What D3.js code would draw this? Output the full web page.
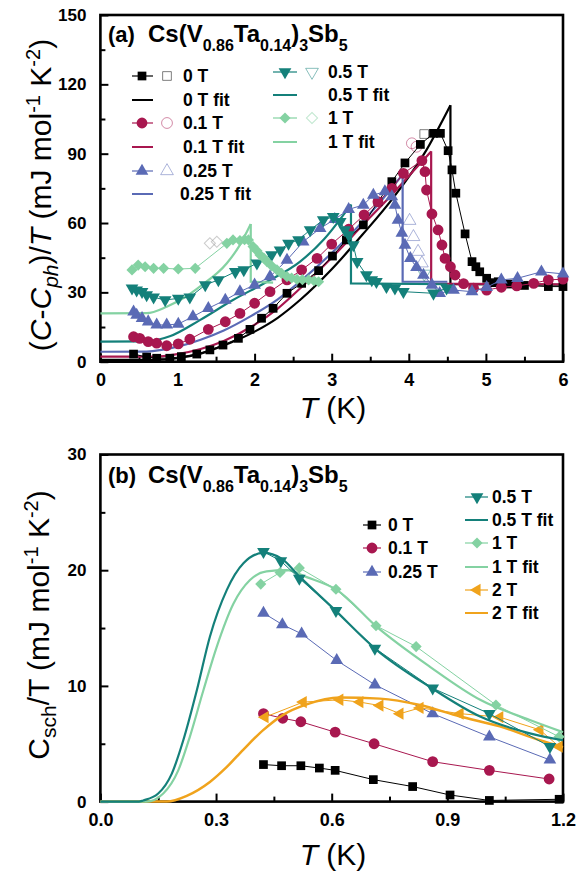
<!DOCTYPE html>
<html>
<head>
<meta charset="utf-8">
<script src="https://cdn.jsdelivr.net/npm/d3@7"></script>
<style>
  body { margin: 0; background: #fff; }
  svg { display: block; font-family: Arial, "Liberation Sans", sans-serif; }
</style>
</head>
<body>
<script>
'use strict';

// ---------- panel (a): (C-Cph)/T vs T ----------
const a0T_T = [0.43,0.6,0.73,0.9,1.05,1.25,1.42,1.59,1.79,1.94,2.09,2.24,2.42,2.61,2.83,3.01,3.19,3.41,3.6,3.78,3.95,4.15,4.32,4.41,4.51,4.56,4.61,4.73,4.82,4.87,4.92,5.01,5.1,5.16,5.31,5.5,5.81,6.0];
const a0T_V = [3.3,2.0,1.5,1.5,2.2,3.3,5.1,7.2,10.1,14,18.8,23.1,29.6,33.9,39.4,45.7,52.7,59.2,69.2,77.9,86,94,98.8,98.8,91.3,83,72.9,55.3,43.3,41.1,38.9,36.1,34.2,34.6,33.6,33,32.5,32.5];
const a0T_openT = [4.2];
const a0T_openV = [98.5];

const a01_T = [0.43,0.51,0.62,0.73,0.86,1.01,1.16,1.4,1.62,1.81,2.0,2.2,2.42,2.61,2.81,3.0,3.22,3.42,3.6,3.78,3.93,4.17,4.21,4.23,4.3,4.38,4.43,4.47,4.54,4.6,4.71,4.84,5.01,5.2,5.4,5.62,5.81,6.0];
const a01_V = [10.8,10.1,8.7,8.0,6.9,7.7,9.7,14,17.3,20.9,25.3,30.3,35.4,39.7,44.7,50.9,57.3,63.5,69.2,75,81.5,87,82.2,74.3,63.9,57,50.5,44.7,41.1,37.5,33.8,31.8,31,32.2,32.8,33.9,35.4,35.7];
const a01_openT = [4.04,4.1];
const a01_openV = [94.5,93];

const a025_T = [0.43,0.47,0.54,0.62,0.73,0.86,1.01,1.2,1.4,1.62,1.81,2.0,2.2,2.42,2.63,2.85,3.04,3.22,3.41,3.54,3.69,3.78,3.82,3.86,3.91,3.95,4.02,4.1,4.19,4.3,4.4,4.58,4.82,5.01,5.2,5.41,5.72,6.0];
const a025_V = [21.6,20.2,18.8,17.3,15.9,15.9,16.3,19.5,23.1,26.7,30.3,33.2,36.8,44,51.9,57.7,61.6,65.9,67.8,72.1,73.6,71.4,67.8,61.3,55.6,50.5,44.7,40.8,37.5,33.2,29.6,31,30.3,32.2,35.4,36.1,38.9,38];
const a025_openT = [4.01,4.06,4.12,4.17];
const a025_openV = [61,54,47.6,42.6];

const a05_T = [0.41,0.47,0.54,0.6,0.69,0.84,1.01,1.16,1.36,1.53,1.75,1.86,2.03,2.22,2.33,2.44,2.57,2.72,2.89,3.02,3.11,3.17,3.22,3.28,3.33,3.45,3.52,3.58,3.71,3.82,3.93,4.32,4.49];
const a05_V = [31.8,31,30.3,28.9,27.9,26.7,27.4,27.9,33.2,35.4,38.9,39.7,42.6,46.2,48.3,51.2,52.7,57,61.3,62.7,60.6,57,54.8,50.5,43.3,37.5,35.4,34.6,32.5,31.8,30.3,29.6,31.8];
const a05_openT = [4.2];
const a05_openV = [38];

const a1_T = [0.41,0.49,0.58,0.69,0.82,1.01,1.23,1.64,1.72,1.81,1.87,1.92,1.98,2.03,2.07,2.12,2.16,2.22,2.29,2.35,2.42,2.48,2.55,2.62,2.7,2.77,2.83];
const a1_V = [39.7,41.8,41.1,40.4,40.4,40.1,40.4,51.2,52.7,52.4,52.8,52.7,49.8,48,46.2,44.8,43.3,41.5,39.7,38.2,36.8,36.2,35.6,35.5,35.4,35,34.6];
const a1_openT = [1.42,1.51];
const a1_openV = [51.2,51.9];

// fits: smooth rise up to the jump, then the straight drop + normal state
const fit0_T = [0,0.7,1.0,1.3,1.6,2.0,2.3,2.6,3.0,3.4,3.8,4.2,4.54];
const fit0_V = [0.8,0.8,1.5,3.5,7,13,19,27,40,55,71,90,111];
const fit0_tailT = [4.54,4.54,6.0];
const fit0_tailV = [111,33.5,33.3];

const fit01_T = [0,0.7,1.0,1.3,1.6,2.0,2.3,2.6,3.0,3.4,3.8,4.1,4.29];
const fit01_V = [2.2,2.2,3.3,5.5,9,16,23,32,45,59,73,84,91];
const fit01_tailT = [4.29,4.29,6.0];
const fit01_tailV = [91,33.8,33.5];

const fit025_T = [0,0.6,1.0,1.3,1.6,1.94,2.3,2.6,3.0,3.3,3.6,3.92];
const fit025_V = [4.3,4.4,6.5,9.5,13.5,19.5,27,35,47,57,68,81];
const fit025_tailT = [3.92,3.92,4.5];
const fit025_tailV = [81,34.6,34.6];

const fit05_T = [0,0.6,0.9,1.29,1.72,2.16,2.59,2.9,3.25];
const fit05_V = [8.7,8.8,11,18,26.7,34.6,43.3,53,68];
const fit05_tailT = [3.25,3.25,4.5];
const fit05_tailV = [68,33.9,33.5];

const fit1_T = [0,0.6,0.86,1.1,1.29,1.64,1.8,1.95];
const fit1_V = [20.9,21,23.8,28,32.5,42.6,50,59.6];
const fit1_tailT = [1.95,1.95,2.24];
const fit1_tailV = [59.6,34.6,34.2];

// ---------- panel (b): Csch/T vs T ----------
const b0_T = [0.423,0.47,0.52,0.568,0.609,0.708,0.81,0.907,1.009,1.19];
const b0_V = [3.2,3.1,3.1,2.9,2.7,1.9,1.3,0.57,0.1,0.2];

const b01_T = [0.423,0.473,0.52,0.609,0.71,0.862,1.009,1.164];
const b01_V = [7.6,7.2,6.9,6.0,5.0,3.45,2.7,1.95];

const b025_T = [0.423,0.472,0.522,0.613,0.712,0.862,1.009,1.166];
const b025_V = [16.3,15.3,14.5,12.2,10.1,7.6,5.6,3.6];

const b05_T = [0.423,0.468,0.516,0.611,0.712,0.862,1.009,1.166];
const b05_V = [21.6,20.8,19.3,16.5,13.25,9.8,7.6,4.75];

const b1_T = [0.416,0.466,0.516,0.611,0.715,0.819,1.026,1.19];
const b1_V = [18.8,19.8,20.2,18.35,15.2,13.4,8.35,5.6];

const b2_T = [0.427,0.526,0.621,0.673,0.725,0.777,0.829,0.933,1.036,1.14,1.19];
const b2_V = [7.3,8.6,8.8,8.6,8.3,7.6,8.1,7.6,7.3,6.2,4.75];

const fb05_T = [0,0.1,0.111,0.15,0.185,0.215,0.25,0.284,0.328,0.371,0.423,0.47,0.518,0.604,0.717,0.855,0.985,1.114,1.2];
const fb05_V = [0,0,0.1,0.7,2.4,5.3,9.6,14.25,18.3,20.6,21.5,21.0,19.4,16.7,13.1,9.9,7.35,5.9,5.3];

const fb1_T = [0,0.12,0.163,0.202,0.232,0.267,0.302,0.345,0.388,0.431,0.483,0.535,0.613,0.717,0.855,0.985,1.114,1.2];
const fb1_V = [0,0,0.7,2.7,5.6,9.6,13.4,17.1,19.15,19.9,20.0,19.4,18.3,15.1,11.65,8.8,7.05,6.0];

const fb2_T = [0,0.172,0.224,0.284,0.328,0.371,0.423,0.474,0.535,0.621,0.725,0.829,0.933,1.036,1.14,1.2];
const fb2_V = [0,0,0.5,1.7,3.0,4.5,6.2,7.5,8.4,9.0,8.9,8.35,7.35,6.5,5.3,4.7];

// tick values
const aTicksX = [0,1,2,3,4,5,6];
const aTicksY = [0,30,60,90,120,150];
const bTicksX = [0,0.3,0.6,0.9,1.2];
const bTicksY = [0,10,20,30];

// colours
const cBlack = '#000000';
const cRed = '#a8174f';
const cBlue = '#5a6ab5';
const cTeal = '#14807a';
const cGreen = '#84d2a2';
const cOrange = '#f0a31c';

const svg = d3.select('body').append('svg')
  .attr('width', 579)
  .attr('height', 880);

// scales
const xA = d3.scaleLinear().domain([0, 6]).range([100.4, 563]);
const yA = d3.scaleLinear().domain([0, 150]).range([361.7, 15]);
const xB = d3.scaleLinear().domain([0, 1.2]).range([100.4, 563]);
const yB = d3.scaleLinear().domain([0, 30]).range([801.6, 454.5]);

function zip(ts, vs) {
  return ts.map((t, i) => [t, vs[i]]);
}

// marker shapes (diamond = square turned 45 degrees)
function markerPath(kind, size) {
  let type = {
    square: d3.symbolSquare, circle: d3.symbolCircle, up: d3.symbolTriangle,
    down: d3.symbolTriangle, left: d3.symbolTriangle, diamond: d3.symbolSquare
  }[kind];
  return d3.symbol().type(type).size(size)();
}
function markerRot(kind) {
  if (kind == 'down') return ' rotate(180)';
  if (kind == 'left') return ' rotate(-90)';
  if (kind == 'diamond') return ' rotate(45)';
  return '';
}
const markerSize = { square: 76, circle: 92, up: 70, down: 70, left: 66, diamond: 62 };

function addMarker(g, kind, x, y, color, open) {
  g.append('path')
    .attr('d', markerPath(kind, markerSize[kind]))
    .attr('transform', 'translate(' + x + ',' + y + ')' + markerRot(kind))
    .attr('fill', open ? 'none' : color)
    .attr('stroke', open ? color : 'none')
    .attr('stroke-opacity', open ? 0.5 : 1)
    .attr('stroke-width', 1);
}

// data series: thin joining line plus markers
function drawData(g, x, y, ts, vs, kind, color) {
  let pts = zip(ts, vs);
  g.append('path')
    .datum(pts)
    .attr('fill', 'none')
    .attr('stroke', color)
    .attr('stroke-width', 1)
    .attr('d', d3.line().x((d) => x(d[0])).y((d) => y(d[1])));
  pts.forEach((d) => addMarker(g, kind, x(d[0]), y(d[1]), color, false));
}

function drawOpen(g, x, y, ts, vs, kind, color) {
  zip(ts, vs).forEach((d) => addMarker(g, kind, x(d[0]), y(d[1]), color, true));
}

function drawFit(g, x, y, ts, vs, color, width, tailT, tailV) {
  g.append('path')
    .datum(zip(ts, vs))
    .attr('fill', 'none')
    .attr('stroke', color)
    .attr('stroke-width', width)
    .attr('d', d3.line().curve(d3.curveMonotoneX).x((d) => x(d[0])).y((d) => y(d[1])));
  if (tailT) {
    g.append('path')
      .datum(zip(tailT, tailV))
      .attr('fill', 'none')
      .attr('stroke', color)
      .attr('stroke-width', width)
      .attr('d', d3.line().x((d) => x(d[0])).y((d) => y(d[1])));
  }
}

// inward ticks, labels, frame
function drawAxes(x, y, ticksX, ticksY, minorX, minorY, fmtX) {
  let y0 = y.range()[0], x0 = x.range()[0];
  let axB = svg.append('g')
    .attr('transform', 'translate(0,' + y0 + ')')
    .call(d3.axisBottom(x).tickValues(ticksX).tickSize(-8).tickPadding(12).tickFormat(fmtX));
  let axBm = svg.append('g')
    .attr('transform', 'translate(0,' + y0 + ')')
    .call(d3.axisBottom(x).tickValues(minorX).tickSize(-5).tickFormat(''));
  let axL = svg.append('g')
    .attr('transform', 'translate(' + x0 + ',0)')
    .call(d3.axisLeft(y).tickValues(ticksY).tickSize(-8).tickPadding(14).tickFormat(d3.format('d')));
  let axLm = svg.append('g')
    .attr('transform', 'translate(' + x0 + ',0)')
    .call(d3.axisLeft(y).tickValues(minorY).tickSize(-5).tickFormat(''));
  [axB, axBm, axL, axLm].forEach((a) => {
    a.select('.domain').remove();
    a.selectAll('line').attr('stroke', '#000').attr('stroke-width', 2);
    a.selectAll('text')
      .attr('fill', '#000')
      .style('font-size', '17px')
      .style('font-weight', 'bold')
      .style('font-family', 'Arial, "Liberation Sans", sans-serif');
  });
  axB.selectAll('text').style('font-size', '18px');
  svg.append('rect')
    .attr('x', x.range()[0])
    .attr('y', y.range()[1])
    .attr('width', x.range()[1] - x.range()[0])
    .attr('height', y.range()[0] - y.range()[1])
    .attr('fill', 'none')
    .attr('stroke', '#000')
    .attr('stroke-width', 2.6);
}

// chemical formula title with subscripts
function formulaTitle(label, x, y) {
  let t = svg.append('text')
    .attr('x', x).attr('y', y)
    .style('font-weight', 'bold');
  let parts = [
    [label, 0, 22], ['Cs(V', 0, 24], ['0.86', 9, 16], ['Ta', -9, 24], ['0.14', 9, 16],
    [')', -9, 24], ['3', 9, 16], ['Sb', -9, 24], ['5', 9, 16]
  ];
  parts.forEach((p, i) => {
    let s = t.append('tspan').attr('dy', p[1]).style('font-size', p[2] + 'px').text(p[0]);
    if (i == 1) s.attr('x', x + 40);
  });
}

function legendRow(kind, color, mx, lx1, lx2, openKind, ox, tx, cy, text, fitOnly) {
  let g = svg.append('g');
  g.append('line')
    .attr('x1', lx1).attr('x2', lx2).attr('y1', cy).attr('y2', cy)
    .attr('stroke', color)
    .attr('stroke-width', fitOnly ? 2 : 1.2);
  if (!fitOnly) addMarker(g, kind, mx, cy, color, false);
  if (openKind) addMarker(g, openKind, ox, cy, color, true);
  g.append('text')
    .attr('x', tx).attr('y', cy + 6)
    .style('font-size', '17.5px')
    .style('font-weight', 'bold')
    .text(text);
}

// ================= panel (a) =================
drawAxes(xA, yA, aTicksX, aTicksY, [0.5,1.5,2.5,3.5,4.5,5.5], [15,45,75,105,135], d3.format('d'));

let gA = svg.append('g');
drawFit(gA, xA, yA, fit0_T, fit0_V, cBlack, 2.2, fit0_tailT, fit0_tailV);
drawFit(gA, xA, yA, fit01_T, fit01_V, cRed, 2.2, fit01_tailT, fit01_tailV);
drawFit(gA, xA, yA, fit025_T, fit025_V, cBlue, 2.2, fit025_tailT, fit025_tailV);
drawFit(gA, xA, yA, fit05_T, fit05_V, cTeal, 2.2, fit05_tailT, fit05_tailV);
drawFit(gA, xA, yA, fit1_T, fit1_V, cGreen, 2.2, fit1_tailT, fit1_tailV);

drawOpen(gA, xA, yA, a0T_openT, a0T_openV, 'square', cBlack);
drawOpen(gA, xA, yA, a01_openT, a01_openV, 'circle', cRed);
drawOpen(gA, xA, yA, a025_openT, a025_openV, 'up', cBlue);
drawOpen(gA, xA, yA, a05_openT, a05_openV, 'down', cTeal);
drawOpen(gA, xA, yA, a1_openT, a1_openV, 'diamond', '#999');

drawData(gA, xA, yA, a0T_T, a0T_V, 'square', cBlack);
drawData(gA, xA, yA, a01_T, a01_V, 'circle', cRed);
drawData(gA, xA, yA, a025_T, a025_V, 'up', cBlue);
drawData(gA, xA, yA, a05_T, a05_V, 'down', cTeal);
drawData(gA, xA, yA, a1_T, a1_V, 'diamond', cGreen);

formulaTitle('(a)', 108, 42);

// legend (a), left column
legendRow('square', cBlack, 142, 132, 153, 'square', 167, 183, 76, '0 T', false);
legendRow(null, cBlack, 0, 132, 153, null, 0, 183, 100, '0 T fit', true);
legendRow('circle', cRed, 142, 132, 153, 'circle', 167, 183, 123, '0.1 T', false);
legendRow(null, cRed, 0, 132, 153, null, 0, 183, 147, '0.1 T fit', true);
legendRow('up', cBlue, 142, 132, 153, 'up', 167, 183, 171, '0.25 T', false);
legendRow(null, cBlue, 0, 132, 153, null, 0, 180, 194, '0.25 T fit', true);
// legend (a), right column
legendRow('down', cTeal, 285, 273, 297, 'down', 312, 328, 72, '0.5 T', false);
legendRow(null, cTeal, 0, 273, 297, null, 0, 328, 95, '0.5 T fit', true);
legendRow('diamond', cGreen, 285, 273, 297, 'diamond', 312, 328, 118, '1 T', false);
legendRow(null, cGreen, 0, 273, 297, null, 0, 328, 142, '1 T fit', true);

// axis titles (a)
let ylabA = svg.append('text')
  .attr('transform', 'translate(51,195)rotate(-90)')
  .attr('text-anchor', 'middle')
  .style('font-size', '30px');
ylabA.append('tspan').text('(');
ylabA.append('tspan').style('font-style', 'italic').text('C');
ylabA.append('tspan').text('-');
ylabA.append('tspan').style('font-style', 'italic').text('C');
ylabA.append('tspan').attr('dy', 7).style('font-size', '21px').style('font-style', 'italic').text('ph');
ylabA.append('tspan').attr('dy', -7).text(')/');
ylabA.append('tspan').style('font-style', 'italic').text('T');
ylabA.append('tspan').text(' (mJ mol');
ylabA.append('tspan').attr('dy', -11).style('font-size', '20px').text('-1');
ylabA.append('tspan').attr('dy', 11).text(' K');
ylabA.append('tspan').attr('dy', -11).style('font-size', '20px').text('-2');
ylabA.append('tspan').attr('dy', 11).text(')');

let xlabA = svg.append('text')
  .attr('x', 333).attr('y', 418)
  .attr('text-anchor', 'middle')
  .style('font-size', '30px');
xlabA.append('tspan').style('font-style', 'italic').text('T');
xlabA.append('tspan').text(' (K)');

// ================= panel (b) =================
drawAxes(xB, yB, bTicksX, bTicksY, [0.15,0.45,0.75,1.05], [5,15,25], d3.format('.1f'));

let gB = svg.append('g');
drawData(gB, xB, yB, b0_T, b0_V, 'square', cBlack);
drawData(gB, xB, yB, b01_T, b01_V, 'circle', cRed);
drawData(gB, xB, yB, b025_T, b025_V, 'up', cBlue);
drawFit(gB, xB, yB, fb2_T, fb2_V, cOrange, 2.5);
drawData(gB, xB, yB, b2_T, b2_V, 'left', cOrange);
drawFit(gB, xB, yB, fb1_T, fb1_V, cGreen, 2.2);
drawData(gB, xB, yB, b1_T, b1_V, 'diamond', cGreen);
drawFit(gB, xB, yB, fb05_T, fb05_V, cTeal, 2.2);
drawData(gB, xB, yB, b05_T, b05_V, 'down', cTeal);

formulaTitle('(b)', 108, 483);

// legend (b)
legendRow('square', cBlack, 372, 363, 381, null, 0, 388, 525, '0 T', false);
legendRow('circle', cRed, 372, 363, 381, null, 0, 388, 548, '0.1 T', false);
legendRow('up', cBlue, 372, 363, 381, null, 0, 388, 572, '0.25 T', false);
legendRow('down', cTeal, 477, 465, 488, null, 0, 492, 497, '0.5 T', false);
legendRow(null, cTeal, 0, 465, 488, null, 0, 492, 520, '0.5 T fit', true);
legendRow('diamond', cGreen, 477, 465, 488, null, 0, 492, 543, '1 T', false);
legendRow(null, cGreen, 0, 465, 488, null, 0, 492, 567, '1 T fit', true);
legendRow('left', cOrange, 477, 465, 488, null, 0, 492, 590, '2 T', false);
legendRow(null, cOrange, 0, 465, 488, null, 0, 492, 613, '2 T fit', true);

// axis titles (b)
let ylabB = svg.append('text')
  .attr('transform', 'translate(49,625)rotate(-90)')
  .attr('text-anchor', 'middle')
  .style('font-size', '30px');
ylabB.append('tspan').text('C');
ylabB.append('tspan').attr('dy', 7).style('font-size', '21px').text('sch');
ylabB.append('tspan').attr('dy', -7).text('/T (mJ mol');
ylabB.append('tspan').attr('dy', -11).style('font-size', '20px').text('-1');
ylabB.append('tspan').attr('dy', 11).text(' K');
ylabB.append('tspan').attr('dy', -11).style('font-size', '20px').text('-2');
ylabB.append('tspan').attr('dy', 11).text(')');

let xlabB = svg.append('text')
  .attr('x', 333).attr('y', 865)
  .attr('text-anchor', 'middle')
  .style('font-size', '30px');
xlabB.append('tspan').style('font-style', 'italic').text('T');
xlabB.append('tspan').text(' (K)');
</script>
</body>
</html>
